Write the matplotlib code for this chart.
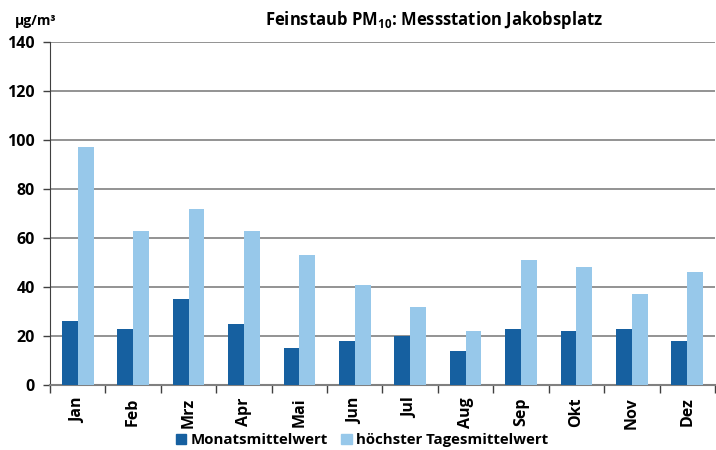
import numpy as np
import matplotlib.pyplot as plt
from matplotlib.patches import Patch

plt.rcParams['font.family'] = ['Open Sans', 'DejaVu Sans']
plt.rcParams['mathtext.fontset'] = 'custom'
plt.rcParams['mathtext.rm'] = 'Open Sans'
plt.rcParams['mathtext.bf'] = 'Open Sans:bold'

monate = ['Jan', 'Feb', 'Mrz', 'Apr', 'Mai', 'Jun', 'Jul', 'Aug', 'Sep', 'Okt', 'Nov', 'Dez']
monatsmittel = [26, 23, 35, 25, 15, 18, 20, 14, 23, 22, 23, 18]
tagesmittel_max = [97, 63, 72, 63, 53, 41, 32, 22, 51, 48, 37, 46]

dunkel = '#1660a0'
hell = '#97c8ea'
grau = '#808080'

fig = plt.figure(figsize=(7.16, 4.5), dpi=100)
ax = fig.add_axes([50 / 716, 1 - 385 / 450, 665 / 716, 343 / 450])

x = np.arange(len(monate))
w = 0.285
ax.bar(x - w / 2, monatsmittel, w, color=dunkel, zorder=3)
ax.bar(x + w / 2, tagesmittel_max, w, color=hell, zorder=3)

ax.set_xlim(-0.5, len(monate) - 0.5)
ax.set_ylim(0, 140)
ax.set_yticks(range(0, 141, 20))
ax.yaxis.grid(True, color=grau, linewidth=1.2, zorder=0)

# Monatsnamen in der Mitte, Striche an den Grenzen
ax.set_xticks(x)
ax.set_xticklabels(monate, rotation=90, fontsize=11.5, fontweight='bold')
ax.tick_params(axis='x', which='major', length=0, pad=9)
ax.set_xticks(np.arange(-0.5, len(monate), 1), minor=True)
ax.tick_params(axis='x', which='minor', length=6, width=1, color='#404040', direction='out')
ax.tick_params(axis='y', length=5, width=1, color='#404040', labelsize=11.5, pad=6)
for lab in ax.get_yticklabels():
    lab.set_fontweight('bold')

for s in ['top', 'right']:
    ax.spines[s].set_visible(False)
ax.spines['left'].set_color('#404040')
ax.spines['bottom'].set_color(grau)
ax.spines['bottom'].set_linewidth(1.5)

fig.text(15 / 716, 1 - 21 / 450, 'µg/m³', fontsize=10, fontweight='bold', va='center')
fig.text(434 / 716, 1 - 20 / 450, 'Feinstaub PM$_{\\mathbf{10}}$: Messstation Jakobsplatz',
         fontsize=12, fontweight='bold', ha='center', va='center')

handles = [Patch(color=dunkel, label='Monatsmittelwert'),
           Patch(color=hell, label='höchster Tagesmittelwert')]
fig.legend(handles=handles, loc='center', bbox_to_anchor=(362 / 716, 1 - 440 / 450), ncol=2,
           frameon=False, prop={'weight': 'bold', 'size': 10.8}, handlelength=0.7, handleheight=0.7,
           handletextpad=0.3, columnspacing=0.9)

fig.savefig('out.png', dpi=100)
